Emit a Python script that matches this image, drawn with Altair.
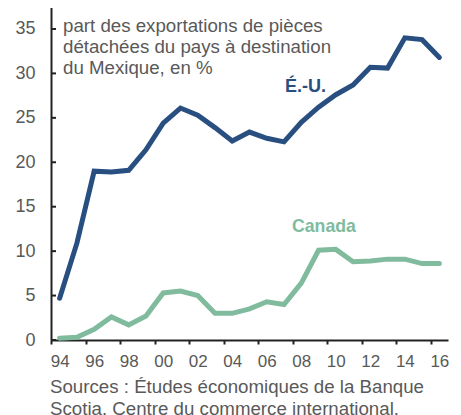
import altair as alt
import pandas as pd

years = list(range(1994, 2017))
us = [4.7, 10.9, 19.0, 18.9, 19.1, 21.4, 24.4, 26.1, 25.3, 23.9, 22.4, 23.4,
      22.7, 22.3, 24.5, 26.2, 27.6, 28.7, 30.7, 30.6, 34.0, 33.8, 31.8]
canada = [0.2, 0.3, 1.2, 2.6, 1.7, 2.7, 5.3, 5.5, 5.0, 3.0, 3.0, 3.5,
          4.3, 4.0, 6.4, 10.1, 10.2, 8.8, 8.9, 9.1, 9.1, 8.6, 8.6]
series_names = ["É.-U.", "Canada"]
series_colors = ["#284f80", "#80bb9e"]
x_tick_years = list(range(1994, 2017, 2))
y_ticks = [0, 5, 10, 15, 20, 25, 30, 35]
note_text = "part des exportations de pièces\ndétachées du pays à destination\ndu Mexique, en %"
source_text = "Sources : Études économiques de la Banque\nScotia. Centre du commerce international."

FONT = "Liberation Sans"
GRAY = "#595959"
AXIS = "#222222"
W, H = 397, 340
TOP = -8
half = W / 23 / 2

df = pd.DataFrame({
    "year": years * 2,
    "value": us + canada,
    "series": [series_names[0]] * len(years) + [series_names[1]] * len(years),
})

xscale = alt.Scale(domain=[1993.5, 2016.5], nice=False, zero=False)
yscale = alt.Scale(domain=[0, 38.26], nice=False, zero=False)

yaxis = alt.Axis(
    values=y_ticks, ticks=False, domainColor=AXIS, domainWidth=2,
    labelFontSize=18, labelColor=GRAY, labelFont=FONT, labelPadding=16,
    grid=False, title=None)

lines = alt.Chart(df).mark_line(strokeWidth=5, strokeCap="round").encode(
    x=alt.X("year:Q", scale=xscale, axis=alt.Axis(
        values=x_tick_years, labelExpr="substring(toString(datum.value), 2)",
        tickOffset=-half, labelOffset=half, tickSize=4, tickWidth=2, tickColor=AXIS,
        domainColor=AXIS, domainWidth=2, labelFontSize=17, labelColor=GRAY,
        labelFont=FONT, labelPadding=9, grid=False, title=None)),
    y=alt.Y("value:Q", scale=yscale, axis=yaxis),
    color=alt.Color("series:N", scale=alt.Scale(domain=series_names, range=series_colors), legend=None),
    detail="series:N",
)

yt = alt.Chart(pd.DataFrame({"v": y_ticks})).mark_rule(color=AXIS, strokeWidth=2).encode(
    y=alt.Y("v:Q", scale=yscale, axis=yaxis), x=alt.value(0), x2=alt.value(5))

def txt(t, x, y, color, size, bold=False, lh=21.3):
    return alt.Chart(pd.DataFrame({"t": [t]})).mark_text(
        align="left", baseline="alphabetic", font=FONT, fontSize=size,
        fontWeight="bold" if bold else "normal", color=color,
        lineBreak="\n", lineHeight=lh).encode(text="t:N", x=alt.value(x), y=alt.value(y - TOP))

note = txt(note_text, 12, 23.5, GRAY, 18.7)
lab_us = txt(series_names[0], 234, 83.7, series_colors[0], 18, bold=True)
lab_ca = txt(series_names[1], 241, 224, series_colors[1], 17.7, bold=True)
src = txt(source_text, -1, 385, GRAY, 18.7, lh=22)

chart = alt.layer(lines, yt, note, lab_us, lab_ca, src).properties(
    width=W, height=H,
    autosize=alt.AutoSizeParams(type="none"),
    padding={"left": 43, "top": TOP, "right": 5, "bottom": 75},
).configure_view(stroke=None)

chart.save("out.html", embed_options={"renderer": "svg", "actions": False})
